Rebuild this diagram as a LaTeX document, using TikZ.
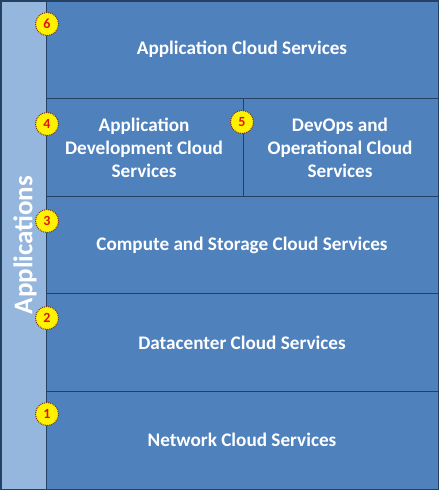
\documentclass[tikz,border=0pt]{standalone}
\usepackage{fontspec}
\setmainfont{Carlito}
\definecolor{mainblue}{RGB}{79,129,189}
\definecolor{lightblue}{RGB}{149,182,221}
\definecolor{edgeblue}{RGB}{36,64,98}
\definecolor{numred}{RGB}{220,20,20}
\definecolor{dotbrown}{RGB}{120,50,30}
\tikzset{
  x=1pt,y=-1pt,
  cell/.style={fill=mainblue,draw=edgeblue,line width=1pt},
  lbl/.style={text=white,font=\bfseries\fontsize{19.2}{23}\selectfont,align=center},
  badge/.style={circle,fill=yellow,draw=dotbrown,densely dotted,line width=1pt,minimum size=23pt,inner sep=0pt,text=numred,font=\bfseries\fontsize{14}{14}\selectfont}
}
\begin{document}
\begin{tikzpicture}
\useasboundingbox (0,0) rectangle (439,490);
\fill[lightblue] (0,0) rectangle (46,490);
\draw[cell] (46,0) rectangle (439,98);
\draw[cell] (46,98) rectangle (243,196);
\draw[cell] (243,98) rectangle (439,196);
\draw[cell] (46,196) rectangle (439,293);
\draw[cell] (46,293) rectangle (439,391);
\draw[cell] (46,391) rectangle (439,490);
\draw[edgeblue,line width=1.5pt] (0.75,0.75) rectangle (438.25,489.25);
\node[lbl] (t6) at (242,49) {Application Cloud Services};
\node[lbl] (t4) at (144,148) {Application\\Development Cloud\\Services};
\node[lbl] (t5) at (340,148) {DevOps and\\Operational Cloud\\Services};
\node[lbl] (t3) at (242,245) {Compute and Storage Cloud Services};
\node[lbl] (t2) at (242,343) {Datacenter Cloud Services};
\node[lbl] (t1) at (242,440) {Network Cloud Services};
\node[text=white,font=\bfseries\fontsize{27}{27}\selectfont,rotate=90] (app) at (25,245) {Applications};
\node[badge] (b6) at (47,24) {6};
\node[badge] (b4) at (47,124) {4};
\node[badge] (b5) at (242,122) {5};
\node[badge] (b3) at (47,221) {3};
\node[badge] (b2) at (47,318) {2};
\node[badge] (b1) at (47,414) {1};
\end{tikzpicture}
\end{document}
